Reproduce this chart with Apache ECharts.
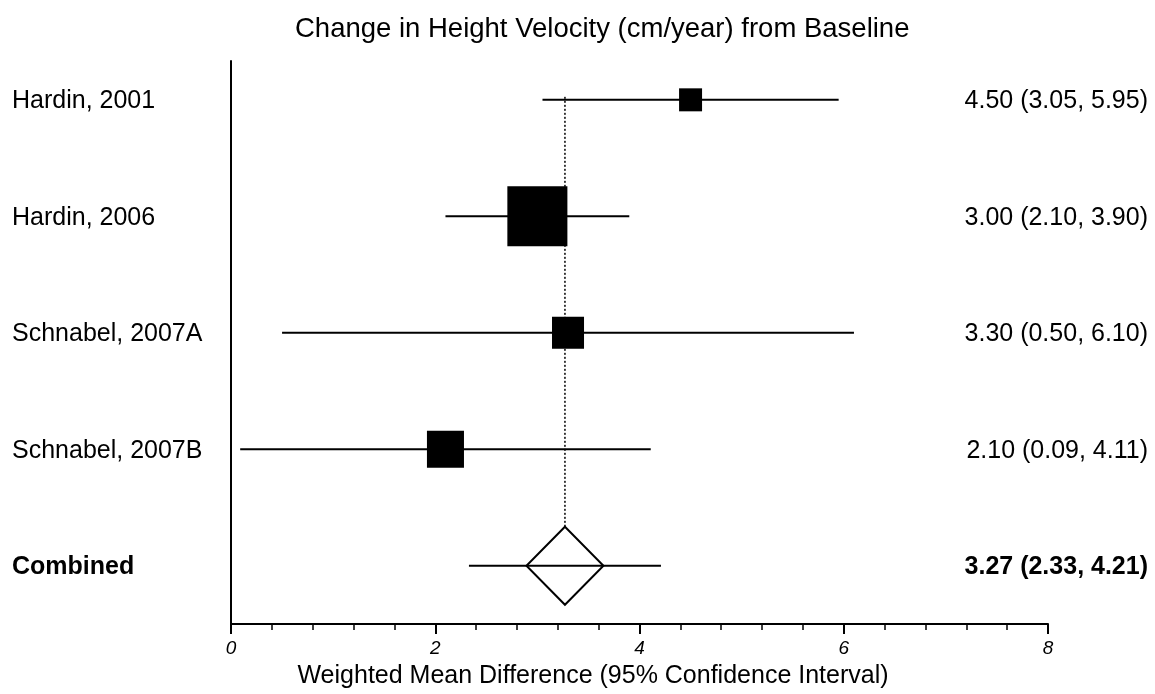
<!DOCTYPE html>
<html>
<head>
<meta charset="utf-8">
<script src="https://cdn.jsdelivr.net/npm/echarts@6/dist/echarts.min.js"></script>
<style>
  html, body { margin: 0; padding: 0; background: #fff; }
  #chart { width: 1155px; height: 694px; }
</style>
</head>
<body>
<div id="chart"></div>
<script>
// Study rows (top to bottom), last row is the pooled estimate
const studies = ['Hardin, 2001', 'Hardin, 2006', 'Schnabel, 2007A', 'Schnabel, 2007B', 'Combined'];
const estimates = [4.50, 3.00, 3.30, 2.10, 3.27];
const lowerCI = [3.05, 2.10, 0.50, 0.09, 2.33];
const upperCI = [5.95, 3.90, 6.10, 4.11, 4.21];
// Relative study weights (%), shown by square area
const weights = [8.1, 55.2, 15.7, 21.0];
const xTicks = [0, 2, 4, 6, 8];

const FONT = "'Liberation Sans', Arial, sans-serif";
const pooledIdx = studies.length - 1;
const rowIdx = studies.map((_, i) => i);

function fmt(i) {
  return estimates[i].toFixed(2) + ' (' + lowerCI[i].toFixed(2) + ', ' + upperCI[i].toFixed(2) + ')';
}

const chart = echarts.init(document.getElementById('chart'), null, { renderer: 'canvas' });

const yBase = {
  type: 'value',
  inverse: true,
  min: -1 / 3,
  max: 4.5,
  splitLine: { show: false },
  axisTick: { show: false }
};

chart.setOption({
  animation: false,
  backgroundColor: '#fff',
  title: {
    text: 'Change in Height Velocity (cm/year) from Baseline',
    left: 290,
    top: 10,
    textStyle: { fontFamily: FONT, fontSize: 27.5, fontWeight: 'normal', color: '#000' }
  },
  grid: { left: 231, right: 107, top: 61, bottom: 67 },
  xAxis: {
    type: 'value',
    min: xTicks[0],
    max: xTicks[xTicks.length - 1],
    interval: 2,
    name: 'Weighted Mean Difference (95% Confidence Interval)',
    nameLocation: 'middle',
    nameGap: 40,
    nameTextStyle: { fontFamily: FONT, fontSize: 25, color: '#000', padding: [0, 93, 0, 0] },
    axisLine: { onZero: false, lineStyle: { color: '#000', width: 2 } },
    axisTick: { length: 10, lineStyle: { color: '#000', width: 2 } },
    minorTick: { show: true, splitNumber: 5, length: 6, lineStyle: { color: '#000', width: 1.5 } },
    splitLine: { show: false },
    axisLabel: {
      margin: 15,
      fontFamily: FONT, fontSize: 19, fontStyle: 'italic', color: '#000',
      formatter: v => String(v)
    }
  },
  yAxis: [
    Object.assign({}, yBase, {
      position: 'left',
      axisLine: { show: true, onZero: false, lineStyle: { color: '#000', width: 2 } },
      axisLabel: {
        customValues: rowIdx,
        align: 'left',
        margin: 219,
        padding: [3, 0, 0, 0],
        fontFamily: FONT, fontSize: 25, color: '#000',
        formatter: v => {
          const i = Math.round(v);
          return i === pooledIdx ? '{b|' + studies[i] + '}' : studies[i];
        },
        rich: { b: { fontFamily: FONT, fontSize: 25, fontWeight: 'bold', color: '#000' } }
      }
    }),
    Object.assign({}, yBase, {
      position: 'right',
      axisLine: { show: false },
      axisLabel: {
        customValues: rowIdx,
        align: 'right',
        margin: 100,
        padding: [3, 0, 0, 0],
        fontFamily: FONT, fontSize: 25, color: '#000',
        formatter: v => {
          const i = Math.round(v);
          return i === pooledIdx ? '{b|' + fmt(i) + '}' : fmt(i);
        },
        rich: { b: { fontFamily: FONT, fontSize: 25, fontWeight: 'bold', color: '#000' } }
      }
    })
  ],
  series: [
    // dotted reference line at the pooled estimate, from the first study down to the diamond
    {
      type: 'custom',
      silent: true,
      data: [[estimates[pooledIdx], 0, pooledIdx]],
      renderItem: (params, api) => {
        const top = api.coord([api.value(0), api.value(1)]);
        const bot = api.coord([api.value(0), api.value(2)]);
        return {
          type: 'line',
          shape: { x1: top[0], y1: top[1] - 3, x2: bot[0], y2: bot[1] - 39 },
          style: { stroke: '#000', lineWidth: 1.5, lineDash: [2, 2] }
        };
      },
      z: 1
    },
    // confidence interval whiskers
    {
      type: 'custom',
      silent: true,
      data: rowIdx.map(i => [lowerCI[i], upperCI[i], i]),
      renderItem: (params, api) => {
        const a = api.coord([api.value(0), api.value(2)]);
        const b = api.coord([api.value(1), api.value(2)]);
        return {
          type: 'line',
          shape: { x1: a[0], y1: a[1], x2: b[0], y2: b[1] },
          style: { stroke: '#000', lineWidth: 2 }
        };
      },
      z: 2
    },
    // study point estimates, square area by weight
    {
      type: 'scatter',
      symbol: 'rect',
      silent: true,
      data: weights.map((w, i) => ({ value: [estimates[i], i], symbolSize: Math.sqrt(w) * 8.08 })),
      itemStyle: { color: '#000', opacity: 1 },
      z: 3
    },
    // pooled estimate diamond
    {
      type: 'scatter',
      symbol: 'diamond',
      silent: true,
      symbolSize: [77, 78],
      data: [[estimates[pooledIdx], pooledIdx]],
      itemStyle: { color: 'rgba(0,0,0,0)', borderColor: '#000', borderWidth: 2, opacity: 1 },
      z: 3
    }
  ]
});
</script>
</body>
</html>
